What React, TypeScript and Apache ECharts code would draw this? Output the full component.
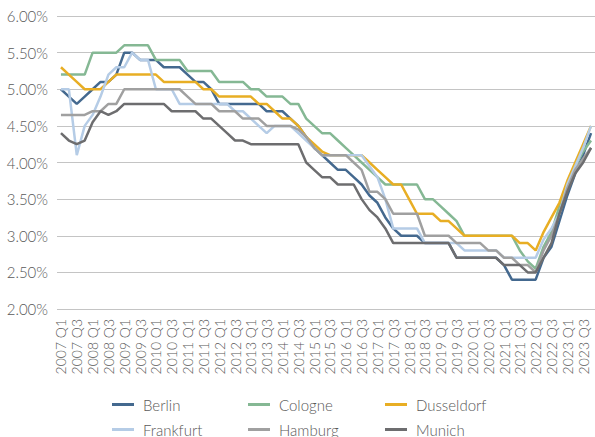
import React, { useEffect, useRef } from "react";
import * as echarts from "echarts";

// Quarterly axis: 2007 Q1 .. 2023 Q4
const years = [2007, 2008, 2009, 2010, 2011, 2012, 2013, 2014, 2015, 2016, 2017, 2018, 2019, 2020, 2021, 2022, 2023];
const quarters = ["Q1", "Q2", "Q3", "Q4"];
const categories: string[] = years.flatMap((y) => quarters.map((q) => `${y} ${q}`));

// Yields in percent, one value per quarter
const berlin = [
  5.0, 4.9, 4.8, 4.9, 5.0, 5.1, 5.1, 5.2, 5.5, 5.5, 5.4, 5.4, 5.4, 5.3, 5.3, 5.3,
  5.2, 5.1, 5.1, 5.0, 4.8, 4.8, 4.8, 4.8, 4.8, 4.8, 4.7, 4.7, 4.7, 4.6, 4.5, 4.35,
  4.2, 4.1, 4.0, 3.9, 3.9, 3.8, 3.7, 3.55, 3.45, 3.25, 3.1, 3.0, 3.0, 3.0, 2.9, 2.9,
  2.9, 2.9, 2.7, 2.7, 2.7, 2.7, 2.7, 2.7, 2.6, 2.4, 2.4, 2.4, 2.4, 2.7, 2.85, 3.2,
  3.55, 3.85, 4.1, 4.4,
];
const cologne = [
  5.2, 5.2, 5.2, 5.2, 5.5, 5.5, 5.5, 5.5, 5.6, 5.6, 5.6, 5.6, 5.4, 5.4, 5.4, 5.4,
  5.25, 5.25, 5.25, 5.25, 5.1, 5.1, 5.1, 5.1, 5.0, 5.0, 4.9, 4.9, 4.9, 4.8, 4.8, 4.6,
  4.5, 4.4, 4.4, 4.3, 4.2, 4.1, 4.0, 3.9, 3.8, 3.7, 3.7, 3.7, 3.7, 3.7, 3.5, 3.5,
  3.4, 3.3, 3.2, 3.0, 3.0, 3.0, 3.0, 3.0, 3.0, 3.0, 2.8, 2.65, 2.55, 2.85, 3.05, 3.4,
  3.7, 3.95, 4.15, 4.3,
];
const dusseldorf = [
  5.3, 5.2, 5.1, 5.0, 5.0, 5.0, 5.1, 5.2, 5.2, 5.2, 5.2, 5.2, 5.2, 5.1, 5.1, 5.1,
  5.1, 5.1, 5.0, 5.0, 4.9, 4.9, 4.9, 4.9, 4.9, 4.8, 4.8, 4.7, 4.6, 4.6, 4.5, 4.35,
  4.25, 4.15, 4.1, 4.1, 4.1, 4.1, 4.1, 4.0, 3.9, 3.8, 3.7, 3.7, 3.5, 3.3, 3.3, 3.3,
  3.2, 3.2, 3.1, 3.0, 3.0, 3.0, 3.0, 3.0, 3.0, 3.0, 2.9, 2.9, 2.8, 3.05, 3.25, 3.45,
  3.75, 4.0, 4.25, 4.5,
];
const frankfurt = [
  5.0, 5.0, 4.1, 4.5, 4.65, 4.9, 5.2, 5.3, 5.3, 5.5, 5.4, 5.4, 5.0, 5.0, 5.0, 4.8,
  4.8, 4.8, 4.8, 4.8, 4.8, 4.8, 4.7, 4.7, 4.6, 4.5, 4.4, 4.5, 4.5, 4.5, 4.4, 4.3,
  4.2, 4.1, 4.1, 4.1, 4.1, 4.1, 4.1, 3.95, 3.8, 3.5, 3.1, 3.1, 3.1, 3.1, 2.9, 2.9,
  2.9, 2.9, 2.9, 2.8, 2.8, 2.8, 2.8, 2.8, 2.7, 2.7, 2.7, 2.7, 2.7, 2.95, 3.1, 3.3,
  3.7, 3.95, 4.2, 4.5,
];
const hamburg = [
  4.65, 4.65, 4.65, 4.65, 4.7, 4.7, 4.8, 4.8, 5.0, 5.0, 5.0, 5.0, 5.0, 5.0, 5.0, 5.0,
  4.9, 4.8, 4.8, 4.8, 4.7, 4.7, 4.7, 4.6, 4.6, 4.6, 4.5, 4.5, 4.5, 4.5, 4.45, 4.35,
  4.2, 4.1, 4.1, 4.1, 4.1, 4.0, 3.9, 3.6, 3.6, 3.5, 3.3, 3.3, 3.3, 3.3, 3.0, 3.0,
  3.0, 3.0, 2.9, 2.9, 2.9, 2.9, 2.8, 2.8, 2.7, 2.7, 2.6, 2.6, 2.5, 2.8, 3.0, 3.3,
  3.65, 3.9, 4.05, 4.2,
];
const munich = [
  4.4, 4.3, 4.25, 4.3, 4.55, 4.7, 4.65, 4.7, 4.8, 4.8, 4.8, 4.8, 4.8, 4.8, 4.7, 4.7,
  4.7, 4.7, 4.6, 4.6, 4.5, 4.4, 4.3, 4.3, 4.25, 4.25, 4.25, 4.25, 4.25, 4.25, 4.25, 4.0,
  3.9, 3.8, 3.8, 3.7, 3.7, 3.7, 3.5, 3.35, 3.25, 3.1, 2.9, 2.9, 2.9, 2.9, 2.9, 2.9,
  2.9, 2.9, 2.7, 2.7, 2.7, 2.7, 2.7, 2.7, 2.6, 2.6, 2.6, 2.5, 2.5, 2.7, 2.9, 3.3,
  3.6, 3.85, 4.0, 4.2,
];

const seriesNames = ["Berlin", "Cologne", "Dusseldorf", "Frankfurt", "Hamburg", "Munich"];
const seriesData = [berlin, cologne, dusseldorf, frankfurt, hamburg, munich];
const seriesColors = ["#44698f", "#85b894", "#e8ae24", "#b5cce6", "#a0a0a0", "#6d6d6f"];

const FONT = "Lato, 'Noto Sans', sans-serif";
const TEXT = "#595959";

// Legend placed as a 3 x 2 table
const legendCols = [112, 248, 385];
const legendRows = [397, 422];

export default function App() {
  const ref = useRef<HTMLDivElement>(null);

  useEffect(() => {
    if (!ref.current) return;
    const chart = echarts.init(ref.current, undefined, { renderer: "svg" });

    const legends = seriesNames.map((name, i) => ({
      data: [name],
      left: legendCols[i % 3],
      top: legendRows[Math.floor(i / 3)],
      padding: 0,
      icon: "rect",
      itemWidth: 22,
      itemHeight: 3,
      textStyle: { fontFamily: FONT, fontWeight: 300, fontSize: 15, color: TEXT, padding: [0, 0, 0, 4] },
      selectedMode: false,
    }));

    chart.setOption({
      animation: false,
      backgroundColor: "#ffffff",
      grid: { left: 57, right: 0, top: 16, bottom: 128, containLabel: false },
      legend: legends,
      xAxis: {
        type: "category",
        data: categories,
        boundaryGap: true,
        axisLine: { show: false },
        axisTick: { show: false },
        axisLabel: {
          rotate: 90,
          interval: 1,
          margin: 10,
          fontFamily: FONT,
          fontWeight: 300,
          fontSize: 14,
          color: TEXT,
        },
      },
      yAxis: {
        type: "value",
        min: 2,
        max: 6,
        interval: 0.5,
        axisLine: { show: false },
        axisTick: { show: false },
        axisLabel: {
          margin: 9,
          fontFamily: FONT,
          fontWeight: 300,
          fontSize: 15,
          color: TEXT,
          formatter: (v: number) => `${v.toFixed(2)}%`,
        },
        splitLine: { lineStyle: { color: "#c4c4c4", width: 1.2 } },
      },
      series: seriesNames.map((name, i) => ({
        name,
        type: "line",
        data: seriesData[i],
        symbol: "none",
        color: seriesColors[i],
        lineStyle: { width: 2.5, color: seriesColors[i] },
        itemStyle: { color: seriesColors[i] },
      })),
    });

    return () => chart.dispose();
  }, []);

  return <div ref={ref} style={{ width: 595, height: 437, position: "absolute", left: 0, top: 0 }} />;
}
